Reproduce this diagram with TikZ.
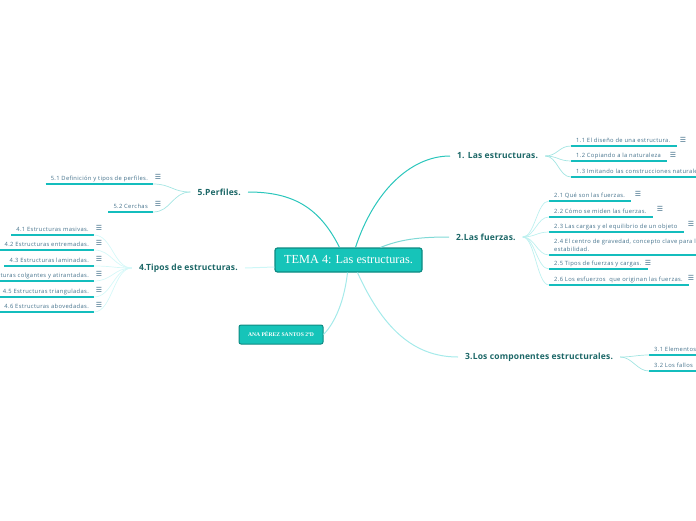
\documentclass[tikz,border=0pt]{standalone}
\usepackage{fontspec}
\setmainfont{Open Sans}
\newfontfamily\subfont{Open Sans}[LetterSpace=6]
\newfontfamily\topicfont{Open Sans}[LetterSpace=2]
\newfontfamily\titlefont{Liberation Serif}
\newfontfamily\symfont{DejaVu Sans}
\definecolor{cfill}{HTML}{16C4B9}
\definecolor{cborder}{HTML}{0E8A82}
\definecolor{topiccol}{HTML}{1C6767}
\definecolor{subcol}{HTML}{42708A}
\definecolor{barcol}{HTML}{14BDBD}
\definecolor{lineA}{HTML}{2BC6BC}
\definecolor{lineB}{HTML}{7FD9D6}
\definecolor{lineC}{HTML}{A5EAEA}
\definecolor{lineD}{HTML}{CDF7F7}
\definecolor{twigA}{HTML}{A3E5E2}
\definecolor{twigB}{HTML}{BDF0EF}
\definecolor{twigD}{HTML}{D5F8F8}
\tikzset{
  central/.style={draw=cborder, fill=cfill, line width=1.2pt, rounded corners=2.5pt,
    minimum width=147pt, minimum height=24pt, inner sep=0pt,
    font=\titlefont\fontsize{12.3}{14}\selectfont, text=white},
  authorbox/.style={draw=cborder, fill=cfill, line width=1pt, rounded corners=2pt,
    minimum width=84pt, minimum height=19pt, inner sep=0pt,
    font=\titlefont\bfseries\fontsize{5.6}{6}\selectfont, text=white},
  topic/.style={font=\topicfont\bfseries\fontsize{8.5}{10}\selectfont, text=topiccol,
    inner xsep=7pt, inner ysep=1pt},
  subbase/.style={font=\subfont\fontsize{5.8}{8}\selectfont, text=subcol,
    inner xsep=5pt, inner ysep=2.2pt},
  sub/.style={subbase, text height=4.3pt, text depth=1.4pt},
  icon/.style={font=\symfont\fontsize{7}{8}\selectfont, text=subcol, inner sep=0pt},
  bar/.style={draw=barcol, line width=1.8pt},
  linkA/.style={draw=lineA, line width=1pt},
  linkB/.style={draw=lineB, line width=1pt},
  linkC/.style={draw=lineC, line width=1pt},
  linkD/.style={draw=lineD, line width=1pt},
  twig/.style={line width=0.7pt},
}
\begin{document}
\begin{tikzpicture}[x=1pt,y=-1pt]
\useasboundingbox (0,0) rectangle (696,520);
\clip (0,0) rectangle (696,520);

% central and author
\node[central] (c) at (348.5,260) {TEMA 4: Las estructuras.};
\node[authorbox] (a) at (281,334.5) {ANA PÉREZ SANTOS 2ºD};

% main topics
\node[topic, anchor=west] (t1) at (450,156) {1. Las estructuras.};
\node[topic, anchor=west] (t2) at (449,237) {2.Las fuerzas.};
\node[topic, anchor=west] (t3) at (458,357) {3.Los componentes estructurales.};
\node[topic, anchor=east] (t5) at (248,192) {5.Perfiles.};
\node[topic, anchor=east] (t4) at (245,268) {4.Tipos de estructuras.};

% links from central
\draw[linkA] ([xshift=7pt]c.north) .. controls +(18,-55) and +(-40,0) .. (t1.west);
\draw[linkB] ([xshift=32pt]c.north) .. controls +(20,-8) and +(-30,0) .. (t2.west);
\draw[linkC] ([xshift=9pt]c.south) .. controls +(25,55) and +(-45,0) .. (t3.west);
\draw[linkA] ([xshift=-9pt]c.north) .. controls +(-20,-40) and +(45,0) .. (t5.east);
\draw[linkD] ([yshift=-7pt]c.west) -- (t4.east);
\draw[linkC] ([xshift=-1pt]c.south) .. controls +(-4,35) and +(8,-8) .. (a.east);

% 1.x
\node[sub, anchor=south west] (s11) at (571,146) {1.1 El diseño de una estructura.};
\node[icon] (i11) at (683,140) {☰};
\node[sub, anchor=south west] (s12) at (571,161) {1.2 Copiando a la naturaleza};
\node[icon] (i12) at (673,155) {☰};
\node[sub, anchor=south west] (s13) at (571,177) {1.3 Imitando las construcciones naturales.};
\foreach \n in {s11,s12} \draw[bar] (\n.south west) -- ([xshift=1pt]\n.south east);
\draw[bar] (s13.south west) -- (710,177);
\foreach \n in {s11,s12,s13}
  \draw[twig, draw=twigA] (t1.east) .. controls +(12,0) and +(-12,0) .. (\n.south west);

% 2.x
\node[sub, anchor=south west] (s21) at (549,201) {2.1 Qué son las fuerzas.};
\node[icon] (i21) at (638,194) {☰};
\node[sub, anchor=south west] (s22) at (549,217) {2.2 Cómo se miden las fuerzas.};
\node[icon] (i22) at (660,209) {☰};
\node[sub, anchor=south west] (s23) at (549,232) {2.3 Las cargas y el equilibrio de un objeto};
\node[icon] (i23) at (691,224) {☰};
\node[subbase, anchor=south west, align=left, inner ysep=3.2pt] (s24) at (549,255)
  {2.4 El centro de gravedad, concepto clave para la\\estabilidad.};
\node[sub, anchor=south west] (s25) at (549,269) {2.5 Tipos de fuerzas y cargas.};
\node[icon] (i25) at (648,263) {☰};
\node[sub, anchor=south west] (s26) at (549,285) {2.6 Los esfuerzos\ \ que originan las fuerzas.};
\node[icon] (i26) at (691,278) {☰};
\foreach \n in {s21,s22,s23,s25,s26} \draw[bar] (\n.south west) -- ([xshift=1pt]\n.south east);
\draw[bar] (s24.south west) -- (710,255);
\foreach \n in {s21,s22,s23,s24,s25,s26}
  \draw[twig, draw=twigB] (t2.east) .. controls +(12,0) and +(-12,0) .. (\n.south west);

% 3.x
\node[sub, anchor=south west] (s31) at (649,355) {3.1 Elementos};
\node[sub, anchor=south west] (s32) at (649,371) {3.2 Los fallos};
\draw[bar] (s31.south west) -- (710,355);
\draw[bar] (s32.south west) -- (710,371);
\foreach \n in {s31,s32}
  \draw[twig, draw=twigA] (t3.east) .. controls +(12,0) and +(-12,0) .. (\n.south west);

% 5.x
\node[sub, anchor=south east] (s51) at (153,184) {5.1 Definición y tipos de perfiles.};
\node[icon] (i51) at (158,177) {☰};
\node[sub, anchor=south east] (s52) at (153,212) {5.2 Cerchas};
\node[icon] (i52) at (158,204) {☰};
\foreach \n in {s51,s52} \draw[bar] (\n.south west) -- (\n.south east);
\foreach \n in {s51,s52}
  \draw[twig, draw=twigA] (\n.south east) .. controls +(18,0) and +(-18,0) .. (t5.west);

% 4.x
\node[sub, anchor=south east] (s41) at (94,235) {4.1 Estructuras masivas.};
\node[icon] (i41) at (99,228) {☰};
\node[sub, anchor=south east] (s42) at (94,250) {4.2 Estructuras entremadas.};
\node[icon] (i42) at (99,243) {☰};
\node[sub, anchor=south east] (s43) at (94,266) {4.3 Estructuras laminadas.};
\node[icon] (i43) at (99,259) {☰};
\node[sub, anchor=south east] (s44) at (94,281) {4.4 Estructuras colgantes y atirantadas.};
\node[icon] (i44) at (99,274) {☰};
\node[sub, anchor=south east] (s45) at (94,297) {4.5 Estructuras trianguladas.};
\node[icon] (i45) at (99,290) {☰};
\node[sub, anchor=south east] (s46) at (94,312) {4.6 Estructuras abovedadas.};
\node[icon] (i46) at (99,305) {☰};
\foreach \n in {s41,s42,s43,s44,s45,s46} \draw[bar] (\n.south west) -- (\n.south east);
\foreach \n in {s41,s42,s43,s44,s45,s46}
  \draw[twig, draw=twigD] (\n.south east) .. controls +(18,0) and +(-18,0) .. (t4.west);
\end{tikzpicture}
\end{document}
